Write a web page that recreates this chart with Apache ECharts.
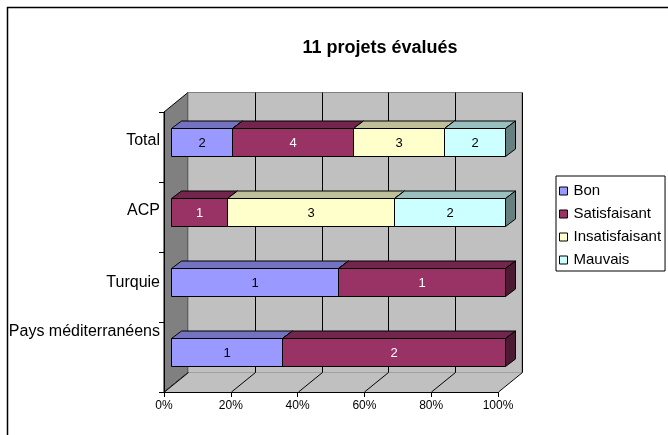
<!DOCTYPE html>
<html>
<head>
<meta charset="utf-8">
<script src="https://cdn.jsdelivr.net/npm/echarts@6/dist/echarts.min.js"></script>
<style>
  html, body { margin: 0; padding: 0; background: #fff; }
  #chart { width: 668px; height: 435px; }
</style>
</head>
<body>
<div id="chart"></div>
<script>
// Categories (top to bottom) and project counts per rating
const categories = ['Total', 'ACP', 'Turquie', 'Pays méditerranéens'];
const bon = [2, 0, 1, 1];
const satisfaisant = [4, 1, 1, 2];
const insatisfaisant = [3, 3, 0, 0];
const mauvais = [2, 2, 0, 0];
const seriesNames = ['Bon', 'Satisfaisant', 'Insatisfaisant', 'Mauvais'];
const xTicks = [0, 20, 40, 60, 80, 100];
const chartTitle = '11 projets évalués';

// Styling
const FONT = '"Liberation Sans", Arial, sans-serif';
const colors = ['#9999FF', '#993366', '#FFFFCC', '#CCFFFF'];
const labelColors = ['#000', '#fff', '#000', '#000'];
const WALL_DX = 24, WALL_DY = -19.5;    // depth of the 3D box
const BAR_OX = 7, BAR_OY = -5.5;         // bar front face inset
const BAR_DX = 10, BAR_DY = -7.5;        // bar depth
const labelShift = { 'Total': 12, 'ACP': 12, 'Turquie': 8, 'Pays méditerranéens': 50 };

function shade(hex, f) {
  const n = parseInt(hex.slice(1), 16);
  const r = Math.round(((n >> 16) & 255) * f);
  const g = Math.round(((n >> 8) & 255) * f);
  const b = Math.round((n & 255) * f);
  return 'rgb(' + r + ',' + g + ',' + b + ')';
}

// Build 100%-stacked segments: [start%, end%, categoryIndex, count]
const counts = [bon, satisfaisant, insatisfaisant, mauvais];
const totals = categories.map((_, i) => counts.reduce((s, arr) => s + arr[i], 0));
const segments = counts.map(() => []);
categories.forEach((_, i) => {
  let acc = 0;
  counts.forEach((arr, k) => {
    const start = acc / totals[i] * 100;
    acc += arr[i];
    const end = acc / totals[i] * 100;
    segments[k].push([start, end, i, arr[i]]);
  });
});

function renderWalls(params, api) {
  const cs = params.coordSys;
  const L = cs.x, T = cs.y, R = cs.x + cs.width, B = cs.y + cs.height;
  const children = [];
  // left side wall
  children.push({ type: 'polygon', shape: { points: [[L, T], [L + WALL_DX, T + WALL_DY], [L + WALL_DX, B + WALL_DY], [L, B]] },
    style: { fill: '#808080', stroke: '#000', lineWidth: 1 } });
  // back wall
  children.push({ type: 'rect', shape: { x: L + WALL_DX, y: T + WALL_DY, width: cs.width, height: cs.height },
    style: { fill: '#C0C0C0', stroke: '#808080', lineWidth: 1 } });
  // floor
  children.push({ type: 'polygon', shape: { points: [[L, B], [L + WALL_DX, B + WALL_DY], [R + WALL_DX, B + WALL_DY], [R, B]] },
    style: { fill: '#C0C0C0', stroke: null } });
  xTicks.forEach((v) => {
    const x = Math.round(api.coord([v, 0])[0]) + 0.5;
    if (v > 0) {
      children.push({ type: 'line', shape: { x1: x + WALL_DX, y1: T + WALL_DY, x2: x + WALL_DX, y2: B + WALL_DY },
        style: { stroke: '#000', lineWidth: 1 } });
    }
    children.push({ type: 'line', shape: { x1: x, y1: B, x2: x + WALL_DX, y2: B + WALL_DY },
      style: { stroke: '#000', lineWidth: 1 } });
  });
  return { type: 'group', children: children };
}

function makeBarRenderer(k) {
  return function (params, api) {
    const start = api.value(0), end = api.value(1), cat = api.value(2), n = api.value(3);
    if (!n) return null;
    const a = api.coord([start, cat]);
    const b = api.coord([end, cat]);
    const h = api.size([0, 1])[1] * 0.4;
    const x0 = Math.round(a[0] + BAR_OX) + 0.5, x1 = Math.round(b[0] + BAR_OX) + 0.5;
    const top = Math.round(a[1] + BAR_OY - h / 2) + 0.5, bot = top + Math.round(h);
    const color = colors[k];
    return {
      type: 'group',
      children: [
        { type: 'polygon', shape: { points: [[x0, top], [x1, top], [x1 + BAR_DX, top + BAR_DY], [x0 + BAR_DX, top + BAR_DY]] },
          style: { fill: shade(color, 0.75), stroke: '#000', lineWidth: 1 } },
        { type: 'polygon', shape: { points: [[x1, top], [x1 + BAR_DX, top + BAR_DY], [x1 + BAR_DX, bot + BAR_DY], [x1, bot]] },
          style: { fill: shade(color, 0.5), stroke: '#000', lineWidth: 1 } },
        { type: 'rect', shape: { x: x0, y: top, width: x1 - x0, height: bot - top },
          style: { fill: color, stroke: '#000', lineWidth: 1 } },
        { type: 'text', x: (x0 + x1) / 2, y: (top + bot) / 2 + 1,
          style: { text: String(n), fill: labelColors[k], align: 'center', verticalAlign: 'middle',
                   fontSize: 13, fontFamily: FONT } }
      ]
    };
  };
}

const rich = {};
categories.forEach((c, i) => {
  rich['c' + i] = { fontSize: 16, fontFamily: FONT, color: '#000', padding: [0, 0, labelShift[c], 0] };
});

const chart = echarts.init(document.getElementById('chart'), null, { renderer: 'canvas' });
const series = [{
  type: 'custom', name: '_box', silent: true, z: 1,
  data: [[0, 0]], encode: { x: 0, y: 1 },
  renderItem: renderWalls
}];
seriesNames.forEach((name, k) => {
  series.push({
    type: 'custom', name: name, z: 2,
    itemStyle: { color: colors[k] },
    data: segments[k], encode: { x: [0, 1], y: 2 },
    renderItem: makeBarRenderer(k)
  });
});

chart.setOption({
  backgroundColor: '#fff',
  animation: false,
  title: {
    text: chartTitle, left: 375, top: 34, textAlign: 'center',
    textStyle: { fontSize: 18, fontWeight: 'bold', fontFamily: FONT, color: '#000' }
  },
  legend: {
    data: seriesNames, orient: 'vertical', left: 556, top: 176,
    icon: 'rect', itemWidth: 8, itemHeight: 8, itemGap: 7,
    padding: [7, 4, 3, 3],
    borderColor: '#000', borderWidth: 1, borderRadius: 0,
    itemStyle: { borderColor: '#000', borderWidth: 1 },
    textStyle: { fontSize: 15, fontFamily: FONT, color: '#000', lineHeight: 16, padding: [0, 0, 0, 1] },
    selectedMode: false
  },
  grid: { left: 164, top: 112, width: 334, height: 280, containLabel: false },
  xAxis: {
    type: 'value', min: 0, max: 100, interval: 20, z: 5,
    axisLine: { show: true, lineStyle: { color: '#000', width: 1 } },
    axisTick: { show: true, length: 5, lineStyle: { color: '#000' } },
    splitLine: { show: false },
    axisLabel: { formatter: '{value}%', fontSize: 12, fontFamily: FONT, color: '#000', margin: 8 }
  },
  yAxis: {
    type: 'category', data: categories, inverse: true, z: 5,
    axisLine: { show: true, lineStyle: { color: '#000', width: 1 } },
    axisTick: { show: true, length: 5, lineStyle: { color: '#000' } },
    splitLine: { show: false },
    axisLabel: {
      margin: 4, interval: 0,
      formatter: (v) => '{c' + categories.indexOf(v) + '|' + v + '}',
      rich: rich
    }
  },
  graphic: [{
    type: 'rect', silent: true, z: 100,
    shape: { x: 7.5, y: 7.5, width: 700, height: 500 },
    style: { fill: null, stroke: '#000', lineWidth: 1.5 }
  }],
  series: series
});
</script>
</body>
</html>
